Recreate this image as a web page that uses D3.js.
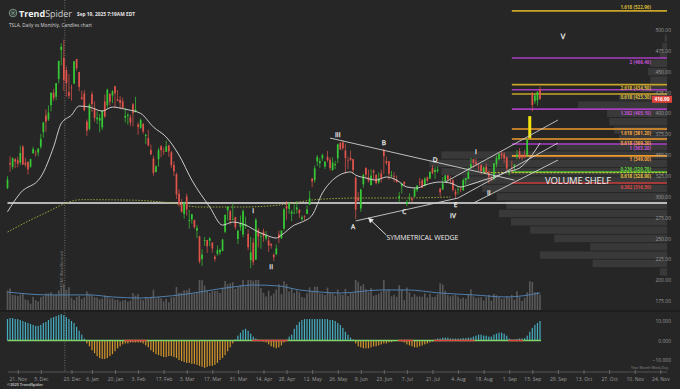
<!DOCTYPE html>
<html>
<head>
<meta charset="utf-8">
<script src="https://cdn.jsdelivr.net/npm/d3@7"></script>
<style>
  body { margin: 0; background: #262626; }
  svg { display: block; font-family: "Open Sans", "Liberation Sans", sans-serif; }
  .note { -webkit-font-smoothing: antialiased; text-rendering: geometricPrecision; }
</style>
</head>
<body>
<div id="chart"></div>
<script>
// ---------------------------------------------------------------- data
var firstDay = "2024-11-15";
var holidays = ["2024-11-28", "2024-12-25", "2025-01-01", "2025-01-09", "2025-01-20", "2025-02-17",
  "2025-04-18", "2025-05-26", "2025-06-19", "2025-07-04", "2025-09-01", "2025-11-27"];

// daily candles [open, high, low, close], one per trading day from firstDay
var ohlc = [
  // Nov
  [310.6,324.7,309.2,320.7],[340.7,348.6,330.0,338.7],[335.8,347.4,332.8,346.0],[345.0,346.6,334.3,342.0],[343.8,347.9,335.3,339.6],
  [341.1,361.5,337.7,352.6],[360.1,361.9,338.2,338.6],[341.0,346.9,335.5,338.2],[341.8,342.6,326.6,332.9],[336.1,345.5,334.7,345.2],
  // Dec
  [352.4,360.0,351.2,357.1],[351.8,355.7,348.2,351.4],[353.0,358.1,348.6,357.9],[359.9,375.4,357.5,369.5],[377.4,389.5,370.8,389.2],
  [397.6,404.8,378.0,390.0],[392.7,409.7,390.9,401.0],[409.7,424.9,402.4,424.8],[424.8,429.3,415.0,418.1],[420.0,436.3,415.7,436.2],
  [441.1,463.2,436.0,463.0],[475.9,484.0,457.5,479.9],[466.5,488.5,427.0,440.1],[451.9,456.4,420.0,436.2],[425.5,447.1,417.6,421.1],
  [431.0,434.5,415.4,430.6],[435.9,462.8,435.1,462.3],[465.2,465.3,451.1,454.1],[449.5,450.0,426.5,431.7],[419.4,427.0,415.8,417.4],
  [423.8,427.9,402.5,403.8],
  // Jan
  [390.1,392.7,373.0,379.3],[381.5,411.9,379.5,410.4],[423.2,426.4,401.7,411.1],[405.8,414.3,390.0,394.4],[392.9,402.5,387.4,394.9],
  [391.4,399.3,377.3,394.7],[383.2,403.8,380.1,403.3],[414.3,422.6,394.5,396.4],[409.9,429.8,405.7,428.2],[423.5,424.0,409.1,413.8],
  [421.5,428.0,412.3,426.5],[432.6,433.2,406.3,424.1],[416.8,428.0,414.6,415.1],[416.1,420.8,405.0,412.4],[414.5,418.9,405.8,406.6],
  [394.8,406.7,389.0,397.2],[396.9,400.6,386.5,398.1],[395.2,398.6,384.5,389.1],[410.8,412.5,384.4,400.3],[401.5,420.0,401.3,404.6],
  // Feb
  [386.7,389.2,374.4,383.7],[382.6,394.0,381.4,392.2],[387.5,388.4,375.5,378.2],[373.0,375.4,363.2,374.3],[370.2,380.5,360.3,361.6],
  [356.2,362.7,350.5,350.7],[345.8,349.4,325.1,328.5],[329.9,337.8,329.0,336.5],[345.0,358.7,336.0,355.9],[360.6,362.0,347.5,355.8],
  [355.0,359.1,350.0,354.1],[354.0,367.3,353.7,360.6],[361.5,362.3,348.0,354.4],[353.4,355.0,334.4,337.8],[338.1,342.4,324.7,330.5],
  [327.0,328.9,297.3,302.8],[303.7,309.0,288.0,290.8],[291.2,297.2,280.9,282.0],[279.5,293.9,273.6,293.0],
  // Mar
  [300.3,303.9,277.3,284.7],[270.9,284.4,261.8,272.0],[272.9,279.6,267.7,279.1],[272.1,272.7,261.8,263.5],[259.3,266.3,250.7,262.7],
  [252.5,253.4,220.0,222.2],[225.3,237.1,217.0,230.6],[247.2,251.8,241.1,248.1],[248.1,248.3,232.6,240.7],[247.3,251.6,240.7,250.0],
  [245.1,245.4,232.8,238.0],[228.2,230.1,222.3,225.3],[231.6,241.7,229.2,235.9],[233.3,238.0,230.1,236.3],[235.0,249.5,234.6,248.7],
  [258.1,278.6,256.3,278.4],[283.6,288.2,271.3,288.1],[282.7,284.9,266.5,272.1],[272.5,291.9,271.8,273.1],[275.6,276.1,260.6,263.6],
  [249.3,260.6,243.4,259.2],
  // Apr
  [263.8,277.5,259.3,268.5],[254.6,285.0,251.3,282.8],[265.3,276.3,261.5,267.3],[255.4,261.0,236.0,239.4],[223.8,252.0,214.3,233.3],
  [245.0,250.4,217.8,221.9],[224.7,274.7,223.9,272.2],[260.0,262.5,239.3,252.4],[251.8,257.7,237.6,252.3],[258.4,261.8,245.9,252.4],
  [249.9,258.8,247.5,254.1],[247.6,252.0,233.9,241.6],[243.5,244.3,237.7,241.4],[230.3,232.2,222.8,227.5],[231.0,242.8,229.9,238.0],
  [254.9,259.4,244.4,250.7],[250.5,259.5,249.2,259.5],[261.7,286.9,259.6,285.0],[289.0,294.9,272.4,285.9],[285.5,293.3,279.5,292.0],
  [279.9,284.5,270.8,282.2],
  // May
  [280.0,290.9,279.8,280.5],[284.9,294.8,279.8,287.2],[284.6,284.8,274.4,280.3],[273.1,277.7,271.4,275.4],[276.9,277.9,271.0,276.2],
  [279.6,289.8,279.1,284.8],[290.2,307.0,290.0,298.3],[322.0,322.2,311.5,318.4],[320.0,337.6,316.8,334.1],[342.5,350.0,337.0,347.7],
  [340.3,346.1,334.7,342.8],[346.2,351.6,342.7,350.0],[336.3,343.0,333.4,342.1],[347.9,355.0,341.6,343.8],[344.4,347.4,331.3,334.6],
  [331.9,347.3,331.4,341.0],[337.9,343.2,333.2,339.3],[346.2,363.8,340.4,362.9],[364.8,365.0,355.9,356.9],[365.3,367.7,356.0,358.4],
  [355.5,363.7,328.1,346.5],
  // Jun
  [343.5,348.0,333.3,342.7],[346.6,355.4,343.0,344.3],[345.1,345.6,327.3,332.1],[322.5,324.6,273.2,284.7],[298.8,305.5,295.0,295.1],
  [286.0,309.8,281.9,308.6],[314.9,327.8,310.7,326.1],[334.4,335.5,322.5,326.4],[323.1,332.6,316.9,319.1],[314.0,333.0,313.3,325.3],
  [331.3,332.9,320.3,329.1],[326.1,327.3,314.7,316.4],[317.3,329.3,315.5,322.1],[327.9,332.4,317.1,322.2],[356.2,357.5,327.5,348.7],
  [342.7,348.0,338.0,340.5],[342.7,343.0,320.2,327.6],[324.6,331.0,323.6,325.8],[324.5,329.3,317.5,323.6],[319.9,325.6,316.6,317.7],
  // Jul
  [298.5,305.9,293.2,300.7],[312.6,316.8,303.8,315.7],[318.0,318.5,312.1,315.4],[291.4,296.2,288.8,293.9],[297.0,304.1,294.4,297.8],
  [297.5,300.2,293.6,295.9],[300.1,310.5,300.0,309.9],[307.9,314.1,305.7,313.5],[317.7,322.6,312.7,316.9],[319.7,321.2,310.5,310.8],
  [312.8,323.5,312.6,321.7],[323.1,324.3,317.1,319.4],[321.7,330.9,321.4,329.7],[334.4,338.0,326.9,328.5],[329.7,335.4,321.6,332.1],
  [330.9,336.2,328.7,332.6],[310.0,310.2,300.4,305.3],[308.7,323.6,308.0,316.1],[318.5,326.0,316.6,325.6],[325.6,326.3,318.4,321.2],
  [319.4,324.5,315.3,319.0],[319.6,321.4,306.2,308.3],
  // Aug
  [306.2,309.3,297.8,302.6],[309.1,312.1,303.0,309.3],[309.0,312.5,305.5,308.7],[307.9,321.7,306.9,319.9],[319.8,322.3,314.4,322.3],
  [321.4,335.2,321.0,329.7],[335.0,346.6,333.6,339.0],[345.0,345.3,334.6,340.8],[341.5,346.0,336.5,339.4],[335.8,340.5,330.4,335.6],
  [337.7,339.3,327.0,330.6],[329.6,336.3,329.6,335.2],[335.8,340.0,327.9,329.3],[329.2,331.4,316.0,323.9],[322.1,324.9,318.7,320.1],
  [321.7,340.3,319.7,340.0],[338.9,349.5,335.0,346.6],[344.9,351.9,343.7,351.7],[351.9,355.4,345.0,349.6],[350.9,353.6,340.3,346.0],
  [347.2,348.8,331.7,333.9],
  // Sep
  [328.2,333.3,325.6,329.4],[335.2,343.3,328.5,334.1],[336.2,338.9,331.5,338.5],[348.0,355.9,344.7,350.8],[354.6,358.4,344.8,346.4],
  [348.4,350.8,343.8,347.0],[350.6,356.3,346.1,347.8],[350.2,369.0,347.7,368.8],[370.9,396.7,370.2,395.9],[423.1,425.7,402.4,410.0],
  [414.5,423.3,411.4,421.6],[415.8,426.4,409.4,425.9],[428.9,432.2,416.6,416.9]
];
var highlightDays = ["2025-09-12"];

// volume, millions of shares
var volumes = [
  114,126,88,86,81,89,95,62,57,37,
  77,58,50,75,81,96,97,104,87,89,114,131,149,118,133,72,59,76,82,64,74,
  109,95,85,75,73,62,67,84,81,68,68,60,60,50,56,58,48,55,98,84,
  93,62,57,77,70,77,118,66,78,68,51,67,45,74,76,134,100,101,115,
  115,126,94,98,102,189,174,142,114,100,111,111,111,99,132,169,150,156,162,123,134,
  146,212,136,182,183,171,219,182,128,100,79,112,83,97,120,150,94,167,151,108,128,
  99,114,104,76,71,97,132,112,136,136,97,95,88,131,102,97,84,120,92,88,123,
  81,99,98,287,165,140,151,122,105,128,83,88,95,108,190,114,119,80,89,77,
  145,119,58,131,103,76,92,79,79,77,97,73,94,75,77,92,156,148,112,87,80,85,
  89,78,65,72,65,91,121,80,69,74,75,56,76,88,55,94,86,76,65,67,81,
  72,88,60,109,75,53,72,103,168,163,104,105,90
];
var volumeAvg = [["2024-11-15",105],["2024-12-10",88],["2024-12-16",88],["2025-01-03",88],["2025-01-17",76],
  ["2025-02-04",70],["2025-02-13",76],["2025-03-03",93],["2025-03-17",117],["2025-03-27",134],["2025-04-08",146],
  ["2025-04-23",140],["2025-05-05",117],["2025-05-15",105],["2025-05-28",99],["2025-06-20",117],["2025-07-07",117],
  ["2025-07-24",99],["2025-08-12",88],["2025-08-29",76],["2025-09-18",99]];

// MACD histogram, one per trading day
var macdHist = [
  11,11.5,11.5,11,11,10.5,10,9.5,9,8.5,
  8,7.5,7.5,8,9,9.5,10.5,11.5,12,12.5,13,13.5,13,12,11,10,9,7,5,3,1,
  -1.5,-3,-5,-6.5,-8,-9,-9.5,-9.5,-9,-8,-7,-5.5,-4,-3,-2,-1.5,-1.5,-1,-1,-1,
  -1,-1,-1.5,-2.5,-3.5,-5,-6,-7,-7.5,-8,-8.5,-8.5,-8,-8,-8.5,-9,-10,-10.5,-11,
  -11.5,-11.5,-12,-12,-12.5,-13,-13.5,-14,-13.5,-13,-13,-12.5,-11.5,-10,-9,-7.5,-5.5,-3.5,-1.5,0.5,2.5,
  4,5.5,6,5,3.5,2,1,0.5,0.3,-0.5,-1,-2,-3,-3.5,-4,-3.5,-2.5,-1,0.5,2,3,
  6,8,9.5,10.5,11,11,11,11,11,11,11,11,11,11,10.5,10.5,10,9,8,6.5,4.5,
  3,1.5,0.5,-1.5,-3,-3.5,-4,-4,-4,-3.5,-3,-3,-2.5,-2,-1.5,-1.5,-1,-0.8,-0.5,-0.3,
  -0.3,-0.5,-1,-2,-2.5,-3,-3.5,-3.5,-3,-2.5,-2,-1.5,-1,-0.5,0.5,1,1,1.5,1.5,1.5,1,1,
  1,1,1,1.2,1.2,1.5,1.5,2,2.5,3,3,2.5,2.5,2,2,3,3.5,4,4,3.5,2.5,
  1,0.5,0.5,0.8,1,1,1.2,2.5,4.5,6.5,8,9,10
];
var macdRedSpans = [["2025-01-27","2025-02-06"],["2025-04-08","2025-04-28"],["2025-07-01","2025-07-09"],
  ["2025-07-22","2025-08-12"],["2025-09-02","2025-09-09"]];

// moving averages
var maFast = [["2024-11-15",282],["2024-11-22",304.5],["2024-12-05",323.7],["2024-12-12",359.7],["2024-12-17",388],
  ["2024-12-23",398],["2024-12-27",408.8],["2025-01-03",407.6],["2025-01-13",402.8],["2025-01-17",407.6],
  ["2025-01-27",405],["2025-02-04",400],["2025-02-11",383.6],["2025-02-19",371.6],["2025-02-26",350],
  ["2025-03-05",320],["2025-03-14",287.7],["2025-03-21",266],["2025-03-27",269.7],["2025-04-03",266],
  ["2025-04-10",257.7],["2025-04-15",254],["2025-04-22",250.5],["2025-04-24",254],["2025-05-01",266],
  ["2025-05-06",269.7],["2025-05-12",278],["2025-05-16",304.5],["2025-05-22",320],["2025-06-03",329.7],
  ["2025-06-05",326],["2025-06-11",322.5],["2025-06-17",320],["2025-06-24",323.7],["2025-06-30",320],
  ["2025-07-07",311.7],["2025-07-11",310.5],["2025-07-16",314],["2025-07-24",317.7],["2025-07-30",316.5],
  ["2025-08-05",311.7],["2025-08-08",314],["2025-08-18",320],["2025-08-22",323.7],["2025-08-29",329.7],
  ["2025-09-08",334.5],["2025-09-12",346.5],["2025-09-18",364.4]];
var maSlow = [["2024-11-15",257.7],["2024-12-05",278],["2024-12-30",296.5],["2025-01-29",296],["2025-02-21",292.5],
  ["2025-03-10",287.7],["2025-04-01",287.7],["2025-04-23",290],["2025-05-15",297],["2025-06-09",298.5],
  ["2025-07-01",298.5],["2025-07-30",299.7]];

// fibonacci levels
var fibRatios = ["1.618", "2", "2.618", "", "0.618", "1.382", "1.618", "0.618", "1", "1", "0.236", "0.618", "0.382"];
var fibPrices = [522.96, 466.4, 434.5, 428.4, 423.3, 405.1, 381.2, 369.2, 363.2, 349.0, 329.7, 328.9, 316.5];
var fibKinds = ["gold", "purple", "gold", "purple", "gold", "purple", "orange", "orange", "purple", "orange", "green", "shelf", "red"];
var fibFrom = "2025-09-03";
var shelfFrom = "2025-08-18";

// drawn lines [date, price] pairs
var supportPrice = 292.5;
var trendLines = [
  [["2025-05-21", 370.4], ["2025-09-04", 320]],
  [["2025-06-05", 271], ["2025-08-04", 298.5]],
  [["2025-07-28", 317.7], ["2025-09-29", 392]],
  [["2025-08-04", 298.5], ["2025-09-29", 364.4]],
  [["2025-08-12", 292.5], ["2025-09-29", 344]]
];
var arrowLine = [["2025-06-24", 254], ["2025-06-12", 274.5]];

// wave / pattern labels
var noteText = ["III", "B", "D", "I", "II", "IV", "E", "C", "A", "I", "II", "V"];
var noteDates = ["2025-05-27", "2025-06-23", "2025-07-22", "2025-08-13", "2025-08-20", "2025-07-31", "2025-08-01",
  "2025-07-03", "2025-06-04", "2025-04-08", "2025-04-17", "2025-10-01"];
var notePrices = [375, 364.5, 344, 353.6, 304.5, 277.8, 290.4, 281.7, 263.7, 283, 215.8, 492.7];

// volume profile: bin floor price and relative volume
var vpFloor = d3.range(205, 495, 10);
var vpVolume = [3, 31, 53, 32, 47, 57, 65, 70, 67, 71, 77, 85, 94, 99, 94, 46, 20, 22, 24, 25, 37, 20, 11, 7, 8, 7, 3, 2, 1];

var priceTicks = d3.range(175, 501, 25);
var macdTicks = [-10, 0, 10];
var dateTicks = ["2024-11-21", "2024-12-05", "2024-12-23", "2025-01-06", "2025-01-20", "2025-02-03", "2025-02-17",
  "2025-03-03", "2025-03-17", "2025-03-31", "2025-04-14", "2025-04-28", "2025-05-12", "2025-05-26", "2025-06-09",
  "2025-06-23", "2025-07-07", "2025-07-21", "2025-08-04", "2025-08-18", "2025-09-01", "2025-09-15", "2025-09-29",
  "2025-10-13", "2025-10-27", "2025-11-10", "2025-11-24"];

// ---------------------------------------------------------------- setup
var width = 680, height = 389;
var parseDate = d3.timeParse("%Y-%m-%d"), fmtDate = d3.timeFormat("%Y-%m-%d");
var days = d3.timeDay.range(parseDate(firstDay), parseDate("2025-12-01"))
  .filter(function(d) { return d.getDay() % 6 !== 0 && holidays.indexOf(fmtDate(d)) < 0; });
function bar(s) { return d3.bisectLeft(days, parseDate(s)); }

var colors = {
  bg: "#262626", up: "#36c936", down: "#e0544c", text: "#9a9a9a",
  gold: "#c8a52a", purple: "#a93dc0", orange: "#f29b2c", green: "#52c02c", red: "#c83c3c", shelf: "#d8d23a",
  macdUp: "#45adc0", macdDown: "#d3952c"
};
var labelColors = { gold: "#d8b638", purple: "#c452d6", orange: "#f5a640", green: "#62d03c", red: "#d84848", shelf: "#e0c040" };

var x = d3.scaleLinear().domain([0, ohlc.length - 1]).range([7.5, 540]);
var y = d3.scaleLinear().domain([175, 500]).range([301, 30]);
var yVol = d3.scaleLinear().domain([0, 175]).range([310, 280]).clamp(true);
var yMacd = d3.scaleLinear().domain([-10, 10]).range([360, 321]);
var xVp = d3.scaleLinear().domain([0, 100]).range([667, 427]);
var right = 667;

var svg = d3.select("#chart").append("svg")
  .attr("width", width)
  .attr("height", height);
svg.append("rect").attr("width", width).attr("height", height).attr("fill", colors.bg);

var defs = svg.append("defs");
defs.append("marker")
  .attr("id", "arrowHead")
  .attr("viewBox", "0 0 10 10")
  .attr("refX", 9).attr("refY", 5)
  .attr("markerWidth", 6).attr("markerHeight", 6)
  .attr("orient", "auto")
  .append("path")
  .attr("d", "M0,0 L10,5 L0,10 Z")
  .attr("fill", "#e8e8e8");

// volume profile
svg.append("g").selectAll("rect")
  .data(vpFloor)
  .enter().append("rect")
  .attr("x", function(d, i) { return xVp(vpVolume[i]); })
  .attr("y", function(d) { return y(d + 10) + 0.5; })
  .attr("width", function(d, i) { return right - xVp(vpVolume[i]); })
  .attr("height", function(d) { return y(d) - y(d + 10) - 1; })
  .attr("fill", "#393939");

// dotted event line
var eventX = x(bar("2024-12-18")) + 1;
svg.append("line")
  .attr("x1", eventX).attr("x2", eventX).attr("y1", 0).attr("y2", 372)
  .attr("stroke", "#8a8a8a").attr("stroke-width", 0.7).attr("stroke-dasharray", "1,1.5");
svg.append("text")
  .attr("transform", "translate(" + (eventX - 2) + ",287) rotate(-90)")
  .attr("font-size", "3.6px").attr("fill", "#8a8a8a")
  .text("FOMC (Rate Decision)");

// volume bars + average
svg.append("g").selectAll("rect")
  .data(volumes)
  .enter().append("rect")
  .attr("x", function(d, i) { return x(i) - 0.8; })
  .attr("y", function(d) { return yVol(d); })
  .attr("width", 1.6)
  .attr("height", function(d) { return 310 - yVol(d); })
  .attr("fill", "#6a6a6a")
  .attr("opacity", 0.75);
svg.append("path")
  .datum(volumeAvg)
  .attr("d", d3.line().curve(d3.curveMonotoneX)
    .x(function(d) { return x(bar(d[0])); })
    .y(function(d) { return yVol(d[1]); }))
  .attr("fill", "none").attr("stroke", "#4f7fae").attr("stroke-width", 1);

// panel separator
svg.append("line").attr("x1", 0).attr("x2", width).attr("y1", 311).attr("y2", 311)
  .attr("stroke", "#141414").attr("stroke-width", 1.2);

// support line
svg.append("line")
  .attr("x1", x(0)).attr("x2", right)
  .attr("y1", y(supportPrice)).attr("y2", y(supportPrice))
  .attr("stroke", "#e6e6e6").attr("stroke-width", 1.4);

// slow dashed average
svg.append("path")
  .datum(maSlow)
  .attr("d", d3.line().curve(d3.curveMonotoneX)
    .x(function(d) { return x(bar(d[0])); })
    .y(function(d) { return y(d[1]); }))
  .attr("fill", "none").attr("stroke", "#a8b23a").attr("stroke-width", 0.9).attr("stroke-dasharray", "1.5,1.5");

// fib levels
var fibX0 = x(bar(fibFrom));
var fibG = svg.append("g");
fibG.selectAll("line")
  .data(fibPrices)
  .enter().append("line")
  .attr("x1", function(d, i) { return fibKinds[i] === "shelf" ? x(bar(shelfFrom)) : fibX0; })
  .attr("x2", right)
  .attr("y1", function(d) { return y(d); }).attr("y2", function(d) { return y(d); })
  .attr("stroke", function(d, i) { return colors[fibKinds[i]]; })
  .attr("stroke-width", function(d, i) { return fibKinds[i] === "shelf" ? 1 : 1.6; })
  .attr("stroke-dasharray", function(d, i) { return fibKinds[i] === "shelf" ? "2,1.5" : null; });
fibG.selectAll("text")
  .data(fibPrices)
  .enter().append("text")
  .filter(function(d, i) { return fibRatios[i] !== ""; })
  .attr("x", 651)
  .attr("y", function(d) {
    var i = fibPrices.indexOf(d);
    return i === 0 ? y(d) - 2 : (fibKinds[i] === "green" ? y(d) - 1.5 : y(d) + 5.5);
  })
  .attr("text-anchor", "end")
  .attr("font-size", "4.6px")
  .attr("font-weight", "bold")
  .attr("fill", function(d) { var i = fibPrices.indexOf(d); return labelColors[fibKinds[i]]; })
  .text(function(d) { var i = fibPrices.indexOf(d); return fibRatios[i] + " (" + d.toFixed(2) + ")"; });

// candles
var candleG = svg.append("g");
candleG.selectAll("line")
  .data(ohlc)
  .enter().append("line")
  .attr("x1", function(d, i) { return x(i); }).attr("x2", function(d, i) { return x(i); })
  .attr("y1", function(d) { return y(d[1]); }).attr("y2", function(d) { return y(d[2]); })
  .attr("stroke", function(d) { return d[3] >= d[0] ? colors.up : colors.down; })
  .attr("stroke-width", 0.7);
candleG.selectAll("rect")
  .data(ohlc)
  .enter().append("rect")
  .attr("x", function(d, i) { return x(i) - 0.85; })
  .attr("y", function(d) { return y(Math.max(d[0], d[3])); })
  .attr("width", 1.7)
  .attr("height", function(d) { return Math.max(0.6, Math.abs(y(d[0]) - y(d[3]))); })
  .attr("fill", function(d) { return d[3] >= d[0] ? colors.up : colors.down; });
highlightDays.forEach(function(s) {
  var i = bar(s), d = ohlc[i];
  candleG.append("rect")
    .attr("x", x(i) - 1.5).attr("width", 3)
    .attr("y", y(d[1])).attr("height", y(d[2]) - y(d[1]))
    .attr("fill", "#f2e40a");
});

// fast average
svg.append("path")
  .datum(maFast)
  .attr("d", d3.line().curve(d3.curveMonotoneX)
    .x(function(d) { return x(bar(d[0])); })
    .y(function(d) { return y(d[1]); }))
  .attr("fill", "none").attr("stroke", "#dcdcdc").attr("stroke-width", 0.9);

// wedge / channel lines
svg.append("g").selectAll("line")
  .data(trendLines)
  .enter().append("line")
  .attr("x1", function(d) { return x(bar(d[0][0])); })
  .attr("y1", function(d) { return y(d[0][1]); })
  .attr("x2", function(d) { return x(bar(d[1][0])); })
  .attr("y2", function(d) { return y(d[1][1]); })
  .attr("stroke", "#cfcfcf").attr("stroke-width", 0.9);
svg.append("line")
  .attr("x1", x(bar(arrowLine[0][0]))).attr("y1", y(arrowLine[0][1]))
  .attr("x2", x(bar(arrowLine[1][0]))).attr("y2", y(arrowLine[1][1]))
  .attr("stroke", "#e8e8e8").attr("stroke-width", 0.9)
  .attr("marker-end", "url(#arrowHead)");

// labels on chart
svg.append("g").selectAll("text")
  .data(noteText)
  .enter().append("text")
  .attr("class", "note")
  .attr("x", function(d, i) { return x(bar(noteDates[i])); })
  .attr("y", function(d, i) { return y(notePrices[i]); })
  .attr("dy", "0.35em")
  .attr("text-anchor", "middle")
  .attr("font-size", function(d) { return d === "V" ? "7.5px" : "6.5px"; })
  .attr("fill", "#f0f0f0")
  .attr("stroke", "#f0f0f0")
  .attr("stroke-width", 0.25)
  .text(function(d) { return d; });
svg.append("text")
  .attr("x", x(bar("2025-06-24"))).attr("y", y(250.5))
  .attr("dy", "0.35em")
  .attr("font-size", "7px").attr("fill", "#ececec")
  .attr("textLength", 72)
  .text("SYMMETRICAL WEDGE");
svg.append("text")
  .attr("x", x(bar("2025-09-22"))).attr("y", y(319))
  .attr("dy", "0.35em")
  .attr("font-size", "9.5px").attr("fill", "#f0f0f0")
  .attr("textLength", 66)
  .text("VOLUME SHELF");

// price axis
var priceAxis = svg.append("g")
  .attr("transform", "translate(671,0)")
  .call(d3.axisLeft(y).tickValues(priceTicks).tickSize(0).tickPadding(0).tickFormat(d3.format(".2f")));
priceAxis.select(".domain").remove();
priceAxis.selectAll("text").attr("fill", colors.text).attr("font-size", "5px").attr("font-family", "'Open Sans', sans-serif");

// last price tag
var lastClose = ohlc[ohlc.length - 1][3];
svg.append("rect")
  .attr("x", 652).attr("y", y(lastClose) - 3.5).attr("width", 20).attr("height", 7)
  .attr("fill", "#e0443c");
svg.append("text")
  .attr("x", 662).attr("y", y(lastClose)).attr("dy", "0.35em")
  .attr("text-anchor", "middle").attr("font-size", "4.8px").attr("font-weight", "bold").attr("fill", "#fff")
  .text(lastClose.toFixed(2));

// MACD histogram
svg.append("g").selectAll("rect")
  .data(macdHist)
  .enter().append("rect")
  .attr("x", function(d, i) { return x(i) - 0.6; })
  .attr("y", function(d) { return Math.min(yMacd(d), yMacd(0)); })
  .attr("width", 1.2)
  .attr("height", function(d) { return Math.abs(yMacd(d) - yMacd(0)); })
  .attr("fill", function(d) { return d >= 0 ? colors.macdUp : colors.macdDown; });
svg.append("line")
  .attr("x1", x(0)).attr("x2", x(macdHist.length - 1) + 1)
  .attr("y1", yMacd(0)).attr("y2", yMacd(0))
  .attr("stroke", "#7ed36b").attr("stroke-width", 1.5);
svg.append("g").selectAll("line")
  .data(macdRedSpans)
  .enter().append("line")
  .attr("x1", function(d) { return x(bar(d[0])) - 1; })
  .attr("x2", function(d) { return x(bar(d[1])) + 1; })
  .attr("y1", yMacd(0)).attr("y2", yMacd(0))
  .attr("stroke", "#e04646").attr("stroke-width", 1.5);
var macdAxis = svg.append("g")
  .attr("transform", "translate(671,0)")
  .call(d3.axisLeft(yMacd).tickValues(macdTicks).tickSize(0).tickPadding(0).tickFormat(d3.format(".3f")));
macdAxis.select(".domain").remove();
macdAxis.selectAll("text").attr("fill", colors.text).attr("font-size", "5px").attr("font-family", "'Open Sans', sans-serif");

// time axis
var dateAxis = svg.append("g")
  .attr("transform", "translate(0,372)")
  .call(d3.axisBottom(x)
    .tickValues(dateTicks.map(bar))
    .tickSize(3)
    .tickPadding(2)
    .tickFormat(function(d, i) { return d3.timeFormat("%-d. %b")(parseDate(dateTicks[i])); }));
dateAxis.select(".domain").attr("d", "M8,0H" + right).attr("stroke", "#555");
dateAxis.selectAll(".tick line").attr("stroke", "#666").attr("y1", -2).attr("y2", 2);
dateAxis.selectAll("text").attr("fill", colors.text).attr("font-size", "5px").attr("font-family", "'Open Sans', sans-serif");
svg.append("text")
  .attr("x", 668).attr("y", 369)
  .attr("text-anchor", "end").attr("font-size", "3.6px").attr("fill", "#8a8a8a")
  .text("Year Month Week Day");

// header
var logo = svg.append("g").attr("transform", "translate(13,13)");
logo.append("circle").attr("r", 3.8).attr("fill", "none").attr("stroke", "#7f9c8e").attr("stroke-width", 0.9);
logo.append("path").attr("d", "M-3.8,0H3.8M0,-3.8V3.8M-2.7,-2.7L2.7,2.7M-2.7,2.7L2.7,-2.7")
  .attr("stroke", "#7f9c8e").attr("stroke-width", 0.6);
var brand = svg.append("text")
  .attr("x", 19).attr("y", 16.5)
  .attr("font-size", "9px").attr("fill", "#f2f2f2")
  .attr("textLength", 53).attr("lengthAdjust", "spacingAndGlyphs");
brand.append("tspan").attr("font-weight", "bold").text("Trend");
brand.append("tspan").attr("font-weight", "normal").attr("fill", "#d0d0d0").text("Spider");
svg.append("text")
  .attr("x", 77).attr("y", 15.5)
  .attr("font-size", "4.8px").attr("font-weight", "bold").attr("fill", "#e6e6e6")
  .attr("textLength", 58)
  .text("Sep 19, 2025 7:19AM EDT");
svg.append("text")
  .attr("x", 9).attr("y", 27)
  .attr("font-size", "4.6px").attr("fill", "#dcdcdc")
  .attr("textLength", 83)
  .text("TSLA, Daily vs Monthly, Candles chart");
svg.append("text")
  .attr("x", 7).attr("y", 386)
  .attr("font-size", "3.8px").attr("font-weight", "bold").attr("fill", "#bbbbbb")
  .text("\u00a92025 TrendSpider");
</script>
</body>
</html>
